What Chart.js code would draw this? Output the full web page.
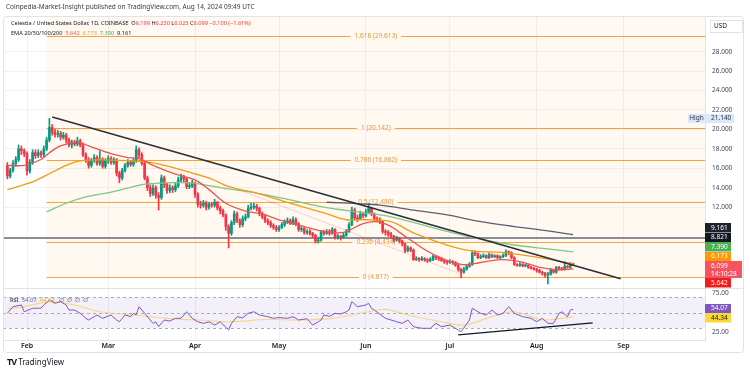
<!DOCTYPE html>
<html>
<head>
<meta charset="utf-8">
<script src="https://cdn.jsdelivr.net/npm/chart.js@4.4.1/dist/chart.umd.min.js"></script>
<style>
  body { margin: 0; background: #fff; font-family: "Noto Sans", Arial, sans-serif; }
  #wrap { position: relative; width: 750px; height: 373px; overflow: hidden; }
  #c { position: absolute; left: 0; top: 0; }
  .t { position: absolute; white-space: nowrap; color: #131722; line-height: 1; }
  .dn { color: #f23645; }
</style>
</head>
<body>
<div id="wrap">
  <canvas id="c" width="750" height="373"></canvas>
  <div class="t" style="left:6px;top:4px;font-size:6.5px;color:#3a3a3a">Coinpedia-Market-Insight published on TradingView.com, Aug 14, 2024 09:49 UTC</div>
  <div class="t" id="sym" style="left:11px;top:21px;font-size:5.6px"></div>
  <div class="t" id="ema" style="left:11px;top:31px;font-size:5.6px"></div>
  <div class="t" id="rsiLeg" style="left:10px;top:298px;font-size:5.8px"></div>
  <div class="t" style="left:7px;top:357px;font-size:8px;color:#131722"><b style="font-size:9px;letter-spacing:-1px">TV</b>&nbsp;TradingView</div>
</div>
<script>
// daily candles, day 0 = 1 Feb 2024, first candle 25 Jan
const firstDay = -7;
const firstOpen = 16.3;
const closes = [
  15.2, 15.8, 16.5, 16.9, 18.0, 17.8, 17.5, 15.7, 16.6, 17.6,
  17.3, 17.6, 17.4, 18.0, 18.9, 20.2, 19.7, 19.5, 19.6, 19.2,
  19.4, 18.9, 18.4, 18.7, 18.5, 18.8, 18.4, 17.4, 16.9, 16.3,
  16.8, 17.1, 16.5, 16.9, 16.2, 16.8, 17.0, 16.6, 16.9, 15.5,
  15.0, 15.8, 16.3, 16.6, 16.4, 16.8, 17.9, 17.4, 16.5, 15.0,
  14.0, 13.4, 14.0, 13.2, 13.0, 15.0, 14.3, 13.7, 14.0, 13.8,
  14.2, 14.8, 15.1, 14.9, 14.1, 14.2, 14.5, 13.3, 12.3, 12.2,
  12.4, 12.0, 12.3, 12.2, 12.5, 11.9, 11.6, 11.2, 10.0, 9.3,
  10.4, 11.3, 10.6, 10.2, 10.8, 11.0, 11.9, 12.0, 12.1, 11.9,
  11.3, 11.0, 10.6, 10.4, 10.1, 9.9, 9.7, 9.9, 10.2, 10.5,
  10.6, 10.4, 10.7, 10.3, 9.7, 9.8, 9.4, 9.5, 9.3, 9.1,
  8.5, 8.6, 9.4, 9.3, 9.5, 9.3, 9.7, 8.9, 9.0, 8.9,
  9.1, 9.5, 10.2, 11.7, 10.9, 10.8, 11.3, 11.1, 11.5, 11.9,
  11.3, 10.8, 10.7, 10.5, 9.5, 9.4, 9.2, 9.0, 8.6, 8.8,
  8.5, 8.2, 7.5, 7.8, 7.6, 6.6, 6.7, 6.6, 6.7, 6.6,
  6.5, 6.6, 6.95, 6.8, 6.7, 6.5, 6.4, 6.3, 6.4, 6.3,
  6.0, 5.6, 5.3, 5.6, 5.9, 6.1, 7.3, 7.2, 6.8, 6.9,
  7.0, 6.8, 7.1, 6.9, 7.0, 6.8, 6.9, 7.0, 7.4, 7.3,
  6.8, 6.1, 6.0, 6.1, 5.95, 6.0, 5.8, 5.7, 5.6, 5.5,
  5.3, 5.2, 5.0, 5.1, 5.5, 5.3, 5.8, 5.7, 5.6, 5.9,
  5.8, 6.199, 6.099
];
const highs = [
  16.6, 16.0, 16.8, 17.2, 18.4, 18.3, 18.0, 17.7, 16.9, 17.9,
  17.9, 17.9, 17.8, 18.3, 19.2, 21.14, 20.5, 20.0, 19.9, 19.8,
  19.7, 19.6, 19.1, 18.9, 18.9, 19.2, 19.0, 18.6, 17.6, 17.1,
  17.0, 17.4, 17.3, 17.8, 17.1, 17.0, 17.3, 17.2, 17.1, 17.0,
  15.7, 16.0, 16.5, 16.9, 16.8, 17.0, 18.3, 18.1, 17.6, 16.7,
  15.2, 14.3, 14.3, 14.2, 13.5, 15.3, 15.2, 14.5, 14.3, 14.2,
  14.5, 15.1, 15.4, 15.3, 15.0, 14.5, 14.8, 14.6, 13.5, 12.6,
  12.7, 12.6, 12.5, 12.5, 12.8, 12.6, 12.1, 11.8, 11.3, 10.2,
  10.6, 11.6, 11.5, 10.8, 11.1, 11.3, 12.2, 12.4, 12.4, 12.3,
  12.0, 11.5, 11.2, 10.8, 10.6, 10.3, 10.1, 10.1, 10.4, 10.7,
  10.9, 10.8, 11.0, 10.9, 10.4, 10.0, 9.9, 9.7, 9.7, 9.4,
  9.2, 8.9, 9.6, 9.6, 9.7, 9.7, 9.9, 9.8, 9.2, 9.1,
  9.3, 9.7, 10.4, 12.0, 11.9, 11.2, 11.6, 11.5, 11.8, 12.4,
  12.0, 11.4, 11.0, 10.9, 10.6, 9.7, 9.6, 9.4, 9.1, 9.0,
  8.9, 8.6, 8.3, 8.0, 7.9, 7.7, 6.9, 6.8, 6.9, 6.8,
  6.7, 6.8, 7.1, 7.0, 6.9, 6.8, 6.6, 6.5, 6.6, 6.5,
  6.4, 6.1, 5.7, 5.8, 6.0, 6.3, 7.5, 7.5, 7.3, 7.1,
  7.2, 7.1, 7.3, 7.2, 7.1, 7.1, 7.0, 7.2, 7.6, 7.5,
  7.4, 6.9, 6.2, 6.3, 6.2, 6.1, 6.1, 5.9, 5.8, 5.7,
  5.6, 5.4, 5.3, 5.3, 5.7, 5.6, 5.9, 5.9, 5.8, 6.4,
  6.0, 6.3, 6.23
];
const lows = [
  14.9, 15.0, 15.6, 16.2, 16.7, 17.4, 17.2, 15.3, 15.5, 16.4,
  17.0, 17.1, 17.1, 17.2, 17.8, 18.7, 19.4, 19.2, 19.2, 18.9,
  19.0, 18.6, 18.2, 18.1, 18.3, 18.3, 18.2, 17.2, 16.6, 16.0,
  16.1, 16.6, 16.3, 16.3, 16.0, 16.0, 16.5, 16.4, 16.4, 15.2,
  14.5, 14.8, 15.6, 16.1, 16.2, 16.2, 16.6, 17.1, 16.3, 14.8,
  13.7, 13.1, 13.2, 12.9, 11.7, 12.8, 14.0, 13.4, 13.5, 13.5,
  13.6, 14.0, 14.6, 14.6, 13.9, 13.9, 14.0, 13.0, 12.0, 11.9,
  12.0, 11.7, 11.8, 12.0, 12.0, 11.7, 11.3, 11.0, 9.6, 7.8,
  9.1, 10.2, 10.4, 9.9, 10.0, 10.6, 10.9, 11.7, 11.8, 11.6,
  11.1, 10.8, 10.4, 10.2, 9.9, 9.7, 9.5, 9.5, 9.8, 10.0,
  10.3, 10.2, 10.2, 10.1, 9.5, 9.5, 9.2, 9.2, 9.1, 8.9,
  8.3, 8.3, 8.5, 9.1, 9.2, 9.1, 9.2, 8.7, 8.7, 8.6,
  8.8, 9.0, 9.4, 10.1, 10.7, 10.5, 10.7, 10.9, 11.0, 11.3,
  11.1, 10.6, 10.5, 10.3, 9.3, 9.1, 9.0, 8.8, 8.4, 8.5,
  8.3, 8.0, 7.3, 7.4, 7.4, 6.5, 6.5, 6.4, 6.5, 6.4,
  6.3, 6.4, 6.5, 6.6, 6.5, 6.4, 6.2, 6.1, 6.2, 6.1,
  5.9, 5.4, 4.7, 5.2, 5.5, 5.8, 6.0, 7.0, 6.7, 6.7,
  6.8, 6.7, 6.7, 6.8, 6.8, 6.7, 6.7, 6.8, 6.9, 7.1,
  6.7, 6.0, 5.9, 5.9, 5.85, 5.85, 5.7, 5.6, 5.5, 5.3,
  5.2, 5.0, 4.8, 4.1, 5.0, 5.2, 5.2, 5.5, 5.5, 5.5,
  5.7, 5.7, 6.023
];

// EMA 20/50/100/200 as [day, value]
const ema20 = [[-7,16.3],[-1,16.3],[5,16.9],[8,17.6],[12,18.3],[18,18.7],[22,18.3],[30,17.5],[36,17.1],[40,17.0],[45,16.3],[53,15.4],[60,14.8],[65,13.8],[71,12.4],[78,11.6],[84,11.3],[91,10.6],[99,10.0],[106,9.5],[113,9.4],[120,10.3],[125,10.5],[130,10.0],[133,9.4],[144,7.3],[155,6.1],[162,6.3],[169,6.6],[176,6.4],[183,5.8],[190,5.55],[195,5.642]];
const ema50 = [[-7,13.8],[2,14.6],[7,15.3],[14,16.3],[19,16.75],[26,16.86],[38,16.75],[43,16.65],[52,16.1],[59,15.5],[65,15.0],[72,14.1],[82,13.45],[94,12.4],[106,11.4],[114,10.7],[121,10.7],[130,10.5],[138,9.35],[150,8.1],[159,7.5],[171,7.3],[183,6.8],[195,6.173]];
const ema100 = [[7,11.5],[14,12.4],[21,13.05],[30,13.55],[38,14.1],[43,14.4],[58,14.5],[70,13.95],[82,13.45],[94,12.75],[106,12.0],[118,11.5],[130,11.0],[150,9.5],[162,8.7],[174,8.1],[186,7.7],[195,7.39]];
const ema200 = [[107,12.5],[118,12.35],[126,12.2],[138,11.7],[150,11.2],[162,10.5],[174,10.0],[186,9.55],[195,9.161]];

// RSI and its moving average
const rsi = [[-7,49],[-5,57.5],[-2,59.7],[-1,51],[2,55.4],[5,55.7],[6,59.7],[8,66],[10,61.9],[12,64],[14,59.7],[15,53.2],[17,53.2],[19,49],[21,42.5],[22,40.3],[24,44.6],[25,46.8],[27,42.5],[30,46.8],[32,40.3],[33,38.1],[35,46.8],[37,44.6],[38,49],[39,47],[40,57.5],[42,49],[45,36],[46,38],[47,31.7],[49,40.3],[51,39],[53,42.5],[55,42.5],[57,51],[59,42.5],[61,38.1],[63,36],[65,38],[67,33.8],[69,38],[72,27.4],[73,36],[75,44.6],[77,43],[79,49],[81,51],[83,46.8],[86,44.6],[88,42.5],[90,43.5],[93,42.5],[95,44.6],[97,40.3],[100,42],[102,33.8],[104,38],[105,40.3],[106,46.8],[108,45],[110,49],[112,48],[114,51],[115,53.2],[116,64],[118,57.5],[121,59.7],[122,61.9],[123,55.4],[124,53.2],[128,42.5],[130,40.3],[132,38.1],[134,36],[136,40.3],[138,31.7],[141,29.6],[144,29.6],[146,36],[148,31.7],[151,33.8],[154,27.4],[155,25.2],[158,40.3],[159,55.4],[162,49],[164,46.8],[166,53.2],[168,46.8],[170,49],[172,57.5],[174,49],[177,44.6],[180,42.5],[182,38.1],[184,42.5],[186,36],[188,36],[190,49],[191,51],[193,44.6],[194,53.2],[195,54.07]];
const rsiMa = [[-7,55],[-2,57],[8,64],[12,63],[19,58],[26,51],[38,46.8],[50,42.5],[61,40.3],[73,38.1],[85,41],[97,40.3],[109,42.5],[122,51],[128,54],[136,46.8],[148,38.1],[156,33.8],[166,44.6],[174,51],[184,40.3],[191,42.5],[195,44.34]];

// drawings
const fibRatios = [1.618, 1, 0.786, 0.5, 0.236, 0];
const fibValues = [29.613, 20.142, 16.862, 12.480, 8.434, 4.817];
const fibStartDay = 7;
const trendLine = [[9, 21.28], [212, 4.62]];
const channelLine = [[60, 15.5], [155, 5.1]];
const hLevel = 8.821;
const rsiTrend = [[154, 21], [202, 36.5]];
const highMark = 21.14;

// axes
const monthNames = ['Feb', 'Mar', 'Apr', 'May', 'Jun', 'Jul', 'Aug', 'Sep'];
const monthStarts = [0, 29, 60, 90, 121, 151, 182, 213];
const priceTicks = [12, 14, 16, 18, 20, 22, 24, 26, 28];
const rsiTicks = [25, 75];
const rsiLevels = [70, 50, 30];

const UP = '#089981', DOWN = '#f23645';
const FIB = '#f2a33a';
const C20 = '#ef5350', C50 = '#f39c12', C100 = '#81c784', C200 = '#5d606b';

const opens = closes.map((c, i) => i === 0 ? firstOpen : closes[i - 1]);
const days = closes.map((c, i) => firstDay + i);
const candleColor = closes.map((c, i) => c >= opens[i] ? UP : DOWN);
const pts = arr => arr.map(([d, v]) => ({ x: d, y: v }));
const last = arr => arr[arr.length - 1][1];

// header text from data
const n = closes.length - 1;
const chg = closes[n] - closes[n - 1];
document.getElementById('sym').innerHTML =
  'Celestia / United States Dollar, 1D, COINBASE&nbsp;&nbsp;O<span class="dn">' + opens[n].toFixed(3) +
  '</span> H<span class="dn">' + highs[n].toFixed(3) + '</span> L<span class="dn">' + lows[n].toFixed(3) +
  '</span> C<span class="dn">' + closes[n].toFixed(3) + '</span> <span class="dn">\u2212' + Math.abs(chg).toFixed(3) +
  ' (\u2212' + Math.abs(chg / closes[n - 1] * 100).toFixed(2) + '%)</span>';
document.getElementById('ema').innerHTML =
  'EMA 20/50/100/200&nbsp; <span style="color:' + C20 + '">' + last(ema20).toFixed(3) + '</span>&nbsp; <span style="color:' + C50 + '">' +
  last(ema50).toFixed(3) + '</span>&nbsp; <span style="color:#4caf50">' + last(ema100).toFixed(3) + '</span>&nbsp; <span>' + last(ema200).toFixed(3) + '</span>';
document.getElementById('rsiLeg').innerHTML =
  'RSI&nbsp; <span style="color:#7e57c2">' + last(rsi).toFixed(2) + '</span>&nbsp; <span style="color:#e6b800">' + last(rsiMa).toFixed(2) +
  '</span>&nbsp;&nbsp; <span style="color:#555">\u2205&nbsp; \u2205&nbsp; \u2205&nbsp; \u2205</span>';

function spread(items) {
  items.sort((p, q) => p.pos - q.pos);
  for (let k = 0; k < 300; k++) {
    let moved = false;
    for (let i = 1; i < items.length; i++) {
      const p = items[i - 1], q = items[i];
      const gap = (p.h + q.h) / 2;
      if (q.pos - p.pos < gap - 0.01) {
        const d = (gap - (q.pos - p.pos)) / 2;
        p.pos -= d; q.pos += d; moved = true;
      }
    }
    if (!moved) break;
  }
}

function box(ctx, x, it) {
  ctx.font = '6.5px "Noto Sans"';
  const w = it.w || 26;
  ctx.fillStyle = it.bg;
  ctx.fillRect(x, Math.round(it.pos - it.h / 2), w, it.h);
  ctx.fillStyle = it.fg;
  ctx.textAlign = 'left';
  ctx.textBaseline = 'middle';
  if (it.lines.length === 1) {
    ctx.fillText(it.lines[0], x + 6, it.pos);
  } else {
    ctx.fillText(it.lines[0], x + 6, it.pos - 4);
    ctx.fillText(it.lines[1], x + 6, it.pos + 4);
  }
}

const overlay = {
  id: 'overlay',
  beforeDatasetsDraw(chart) {
    const { ctx, chartArea: a, scales: { x, y, yRsi: r } } = chart;
    ctx.save();
    const fx = x.getPixelForValue(fibStartDay);
    const zero = y.getPixelForValue(fibValues[fibValues.length - 1]);
    ctx.fillStyle = 'rgba(255,170,60,0.07)';
    ctx.fillRect(fx, y.top, a.right - fx, zero - y.top);
    const cx = (fx + a.right) / 2;
    ctx.font = '6.5px "Noto Sans"';
    ctx.textAlign = 'center';
    ctx.textBaseline = 'middle';
    fibValues.forEach((v, i) => {
      const py = Math.round(y.getPixelForValue(v)) + 0.5;
      const label = fibRatios[i] + ' (' + v.toFixed(3) + ')';
      const w = ctx.measureText(label).width + 8;
      ctx.strokeStyle = FIB;
      ctx.lineWidth = 1;
      ctx.beginPath();
      ctx.moveTo(fx, py); ctx.lineTo(cx - w / 2, py);
      ctx.moveTo(cx + w / 2, py); ctx.lineTo(a.right, py);
      ctx.stroke();
      ctx.fillStyle = '#e9973a';
      ctx.fillText(label, cx, py);
    });
    // horizontal level
    const hy = y.getPixelForValue(hLevel);
    ctx.strokeStyle = '#8a8d96';
    ctx.lineWidth = 2;
    ctx.beginPath(); ctx.moveTo(a.left, hy); ctx.lineTo(a.right, hy); ctx.stroke();
    // rsi pane
    const r70 = r.getPixelForValue(70), r30 = r.getPixelForValue(30);
    ctx.fillStyle = 'rgba(126,87,194,0.09)';
    ctx.fillRect(a.left, r70, a.right - a.left, r30 - r70);
    ctx.strokeStyle = '#a9acb5';
    ctx.lineWidth = 1;
    ctx.setLineDash([3, 3]);
    rsiLevels.forEach(v => {
      const py = Math.round(r.getPixelForValue(v)) + 0.5;
      ctx.beginPath(); ctx.moveTo(a.left, py); ctx.lineTo(a.right, py); ctx.stroke();
    });
    ctx.setLineDash([]);
    ctx.strokeStyle = '#e0e3eb';
    ctx.beginPath(); ctx.moveTo(a.left, r.top + 0.5); ctx.lineTo(y.right, r.top + 0.5); ctx.stroke();
    ctx.restore();
  },
  afterDraw(chart) {
    const { ctx, chartArea: a, scales: { x, y, yRsi: r } } = chart;
    ctx.save();
    const main = [
      { pos: y.getPixelForValue(last(ema200)), h: 9.5, bg: '#1e222d', fg: '#fff', lines: [last(ema200).toFixed(3)] },
      { pos: y.getPixelForValue(hLevel), h: 9.5, bg: '#131722', fg: '#fff', lines: [hLevel.toFixed(3)] },
      { pos: y.getPixelForValue(last(ema100)), h: 9.5, bg: '#4caf50', fg: '#fff', lines: [last(ema100).toFixed(3)] },
      { pos: y.getPixelForValue(last(ema50)), h: 9.5, bg: '#ff9800', fg: '#fff', lines: [last(ema50).toFixed(3)] },
      { pos: y.getPixelForValue(closes[n]), h: 17, w: 37, bg: '#f7525f', fg: '#fff', lines: [closes[n].toFixed(3), '14:10:28'] },
      { pos: y.getPixelForValue(last(ema20)), h: 9.5, bg: '#f21c1c', fg: '#fff', lines: [last(ema20).toFixed(3)] }
    ];
    spread(main);
    main.forEach(it => box(ctx, a.right, it));
    const sub = [
      { pos: r.getPixelForValue(last(rsi)), h: 9.5, bg: '#7e57c2', fg: '#fff', lines: [last(rsi).toFixed(2)] },
      { pos: r.getPixelForValue(last(rsiMa)), h: 9.5, bg: '#fdd835', fg: '#131722', lines: [last(rsiMa).toFixed(2)] }
    ];
    spread(sub);
    sub.forEach(it => box(ctx, a.right, it));
    // high marker
    const hy = y.getPixelForValue(highMark);
    ctx.fillStyle = '#dde8f6';
    ctx.fillRect(a.right - 17, hy - 4.5, 17, 9);
    box(ctx, a.right, { pos: hy, h: 9, w: 29, bg: '#dde8f6', fg: '#2a3550', lines: [highMark.toFixed(3)] });
    ctx.fillStyle = '#2a3550';
    ctx.textAlign = 'center';
    ctx.fillText('High', a.right - 8.5, hy);
    // currency box
    ctx.fillStyle = '#fff';
    ctx.strokeStyle = '#e0e3eb';
    ctx.lineWidth = 1;
    ctx.fillRect(a.right + 5, 20, 32, 12);
    ctx.strokeRect(a.right + 5.5, 20.5, 32, 12);
    ctx.fillStyle = '#131722';
    ctx.textAlign = 'left';
    ctx.fillText('USD', a.right + 9, 26.5);
    // outer frame
    ctx.strokeStyle = '#e0e3eb';
    ctx.beginPath();
    ctx.roundRect(a.left + 0.5, a.top - 0.5, y.right - a.left, x.bottom - a.top + 1, 3);
    ctx.stroke();
    ctx.restore();
  }
};

new Chart(document.getElementById('c'), {
  type: 'bar',
  data: {
    datasets: [
      { type: 'line', data: pts(ema20), borderColor: C20, borderWidth: 1.3, pointRadius: 0, tension: 0.35, yAxisID: 'y', order: 2 },
      { type: 'line', data: pts(ema50), borderColor: C50, borderWidth: 1.3, pointRadius: 0, tension: 0.35, yAxisID: 'y', order: 2 },
      { type: 'line', data: pts(ema100), borderColor: C100, borderWidth: 1.3, pointRadius: 0, tension: 0.35, yAxisID: 'y', order: 2 },
      { type: 'line', data: pts(ema200), borderColor: C200, borderWidth: 1.3, pointRadius: 0, tension: 0.35, yAxisID: 'y', order: 2 },
      { type: 'line', data: pts(trendLine), borderColor: '#2a2e39', borderWidth: 1.5, pointRadius: 0, yAxisID: 'y', order: 1 },
      { type: 'line', data: pts(channelLine), borderColor: 'rgba(242,54,69,0.22)', borderWidth: 1, pointRadius: 0, yAxisID: 'y', order: 3 },
      { type: 'line', data: pts(rsiMa), borderColor: 'rgba(247,200,70,0.6)', borderWidth: 1.2, pointRadius: 0, tension: 0.35, yAxisID: 'yRsi', order: 2 },
      { type: 'line', data: pts(rsi), borderColor: '#7e57c2', borderWidth: 1, pointRadius: 0, yAxisID: 'yRsi', order: 1 },
      { type: 'line', data: pts(rsiTrend), borderColor: '#131722', borderWidth: 1.3, pointRadius: 0, yAxisID: 'yRsi', order: 0 },
      {
        data: days.map((d, i) => ({ x: d, y: [lows[i], highs[i]] })),
        backgroundColor: candleColor, barThickness: 1, grouped: false, yAxisID: 'y', order: 5
      },
      {
        data: days.map((d, i) => ({ x: d, y: [opens[i], closes[i]] })),
        backgroundColor: candleColor, barThickness: 2, minBarLength: 1, grouped: false, yAxisID: 'y', order: 4
      }
    ]
  },
  options: {
    responsive: false,
    animation: false,
    devicePixelRatio: 1,
    events: [],
    layout: { padding: { left: 3, top: 17, right: 7, bottom: 21 } },
    plugins: { legend: { display: false }, tooltip: { enabled: false } },
    scales: {
      x: {
        type: 'linear', min: -8.57, max: 242.1, offset: false,
        afterBuildTicks: s => { s.ticks = monthStarts.map(v => ({ value: v })); },
        afterFit: s => { s.height = 12; },
        ticks: {
          padding: 2, maxRotation: 0, autoSkip: false, color: '#131722',
          font: { size: 7, family: 'Noto Sans', weight: '600' },
          callback: v => monthNames[monthStarts.indexOf(v)]
        },
        grid: { color: '#f1f2f5', drawTicks: false, offset: false },
        border: { color: '#e0e3eb' }
      },
      y: {
        type: 'linear', position: 'right', stack: 'pane', stackWeight: 271,
        min: 3.674, max: 31.572,
        afterBuildTicks: s => { s.ticks = priceTicks.map(v => ({ value: v })); },
        afterFit: s => { s.width = 38; },
        ticks: { padding: 7, color: '#434651', font: { size: 6.5, family: 'Noto Sans' }, callback: v => v.toFixed(3) },
        grid: { color: '#f0f2f6', drawTicks: false },
        border: { color: '#e0e3eb' }
      },
      yRsi: {
        axis: 'y', type: 'linear', position: 'right', stack: 'pane', stackWeight: 52,
        min: 14.52, max: 81.61,
        afterBuildTicks: s => { s.ticks = rsiTicks.map(v => ({ value: v })); },
        afterFit: s => { s.width = 38; },
        ticks: { padding: 7, color: '#434651', font: { size: 6.5, family: 'Noto Sans' }, callback: v => v.toFixed(2) },
        grid: { display: false, drawTicks: false },
        border: { color: '#e0e3eb' }
      }
    }
  },
  plugins: [overlay]
});
</script>
</body>
</html>
